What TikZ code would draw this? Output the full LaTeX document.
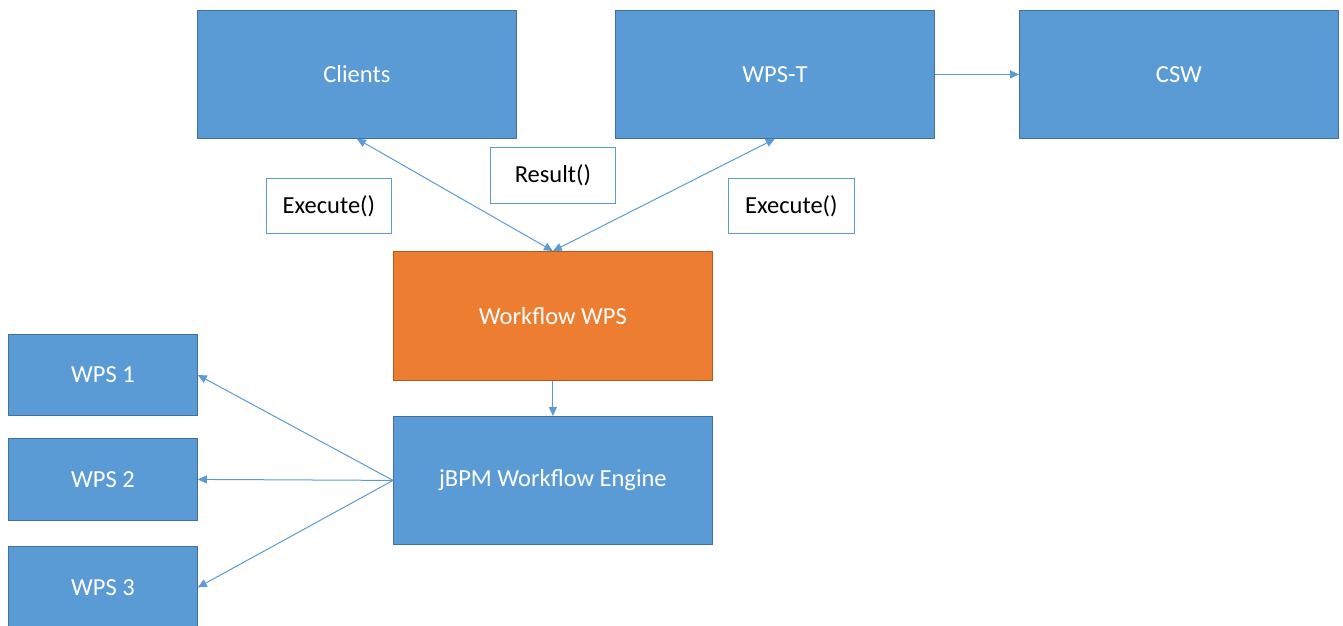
\documentclass[tikz,border=0pt]{standalone}
\usepackage{fontspec}
\setmainfont{Carlito}
\usetikzlibrary{arrows.meta}
\definecolor{boxblue}{HTML}{5B9BD5}
\definecolor{boxblueedge}{HTML}{41719C}
\definecolor{boxorange}{HTML}{ED7D31}
\definecolor{boxorangeedge}{HTML}{AE5A21}
\tikzset{
  block/.style={rectangle, fill=boxblue, draw=boxblueedge, line width=0.8pt,
    text=white, font=\fontsize{24.5}{28}\selectfont, anchor=north west, inner sep=0pt},
  hotblock/.style={block, fill=boxorange, draw=boxorangeedge},
  tag/.style={rectangle, fill=white, draw=boxblue, line width=0.8pt,
    text=black, font=\fontsize{24.5}{28}\selectfont, anchor=north west, inner sep=0pt},
  link/.style={draw=boxblue, line width=1pt, -{Triangle[length=9pt,width=8pt]}},
  twoway/.style={link, {Triangle[length=9pt,width=8pt]}-{Triangle[length=9pt,width=8pt]}}
}
\begin{document}
\begin{tikzpicture}[x=1pt,y=-1pt]
\useasboundingbox (0,0) rectangle (1343,625);
% top row
\node[block, minimum width=319pt, minimum height=128pt] (clients) at (197,10) {Clients};
\node[block, minimum width=319pt, minimum height=128pt] (wpst) at (615,10) {WPS-T};
\node[block, minimum width=319pt, minimum height=128pt] (csw) at (1019,10) {CSW};
% operation labels
\node[tag, minimum width=125pt, minimum height=55pt] (exec1) at (266,178) {Execute()};
\node[tag, minimum width=125pt, minimum height=56pt] (result) at (490,147) {Result()};
\node[tag, minimum width=126pt, minimum height=55pt] (exec2) at (728,178) {Execute()};
% workflow core
\node[hotblock, minimum width=319pt, minimum height=129pt] (wf) at (393,251) {Workflow WPS};
\node[block, minimum width=319pt, minimum height=128pt] (jbpm) at (393,416) {jBPM Workflow Engine};
% worker services
\node[block, minimum width=189pt, minimum height=81pt] (wps1) at (8,334) {WPS 1};
\node[block, minimum width=189pt, minimum height=82pt] (wps2) at (8,438) {WPS 2};
\node[block, minimum width=189pt, minimum height=82pt] (wps3) at (8,546) {WPS 3};
% connectors
\draw[twoway] (clients.south) -- (wf.north);
\draw[twoway] (wpst.south) -- (wf.north);
\draw[link] (wpst.east) -- (csw.west);
\draw[link] (wf.south) -- (jbpm.north);
\draw[link] (jbpm.west) -- (wps1.east);
\draw[link] (jbpm.west) -- (wps2.east);
\draw[link] (jbpm.west) -- (wps3.east);
\end{tikzpicture}
\end{document}
